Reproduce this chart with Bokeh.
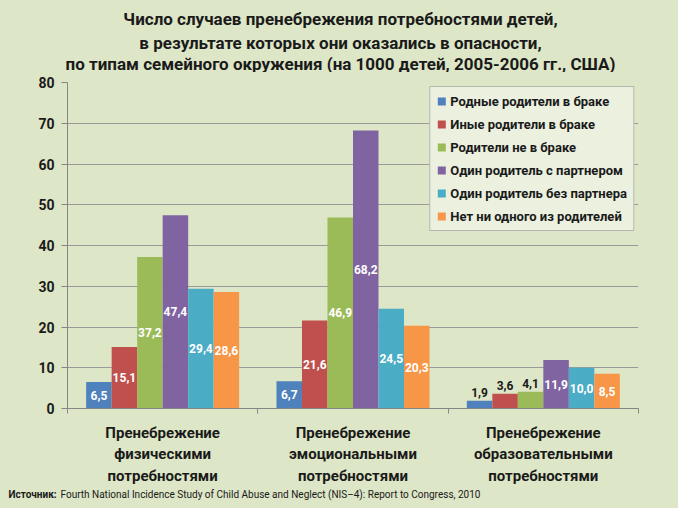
from bokeh.plotting import figure
from bokeh.layouts import column
from bokeh.models import ColumnDataSource, FixedTicker, Legend, LegendItem, Range1d
from bokeh.transform import dodge
from bokeh.embed import file_html
from bokeh.resources import INLINE
from bokeh.core.properties import value

# ---- data ----
categories = [
    "Пренебрежение\nфизическими\nпотребностями",
    "Пренебрежение\nэмоциональными\nпотребностями",
    "Пренебрежение\nобразовательными\nпотребностями",
]
series_names = [
    "Родные родители в браке",
    "Иные родители в браке",
    "Родители не в браке",
    "Один родитель с партнером",
    "Один родитель без партнера",
    "Нет ни одного из родителей",
]
native_married = [6.5, 6.7, 1.9]
other_married = [15.1, 21.6, 3.6]
unmarried = [37.2, 46.9, 4.1]
single_partner = [47.4, 68.2, 11.9]
single_no_partner = [29.4, 24.5, 10.0]
no_parent = [28.6, 20.3, 8.5]
series = [native_married, other_married, unmarried, single_partner, single_no_partner, no_parent]
y_ticks = [0, 10, 20, 30, 40, 50, 60, 70, 80]
title_lines = [
    "Число случаев пренебрежения потребностями детей,",
    "в результате которых они оказались в опасности,",
    "по типам семейного окружения (на 1000 детей, 2005-2006 гг., США)",
]
source_label = "Источник:"
source_text = "Fourth National Incidence Study of Child Abuse and Neglect (NIS–4): Report to Congress, 2010"

colors = ["#4F81BD", "#C0504D", "#9BBB59", "#8064A2", "#4BACC6", "#F79646"]
BG = "#dde6c6"
FONT = "Roboto"
TXT = "#1a1a1a"
WIDTH = 670


def text_panel(height):
    f = figure(width=WIDTH, height=height, x_range=Range1d(0, WIDTH), y_range=Range1d(height, 0),
               output_backend="svg", toolbar_location=None, title=None,
               x_axis_location=None, y_axis_location=None,
               min_border=0, min_border_left=0, min_border_right=0,
               min_border_top=0, min_border_bottom=0, frame_align=False,
               background_fill_color=BG, border_fill_color=BG)
    f.outline_line_color = None
    f.grid.visible = False
    return f


# ---- title panel ----
top = text_panel(72)
top.text(x=[WIDTH / 2 + 5] * 3, y=[18, 42, 63], text=title_lines, text_align="center",
         text_baseline="middle", text_font=value(FONT), text_font_size="17px",
         text_font_style="bold", text_color=TXT)

# ---- main chart ----
n_cat = len(categories)
xc = [i + 0.5 for i in range(n_cat)]
W = 0.134

p = figure(width=WIDTH, height=415, x_range=Range1d(0, n_cat), y_range=Range1d(0, 80),
           output_backend="svg", toolbar_location=None, title=None, frame_align=False,
           min_border_left=67, min_border_right=32, min_border_top=10, min_border_bottom=78,
           background_fill_color=BG, border_fill_color=BG)
p.outline_line_color = None

items = []
for i, (name, vals, col) in enumerate(zip(series_names, series, colors)):
    off = (i - (len(series) - 1) / 2) * W
    src = ColumnDataSource(dict(x=xc, top=vals))
    r = p.vbar(x=dodge("x", off), top="top", width=W, source=src,
               fill_color=col, line_color=None)
    items.append(LegendItem(label=name, renderers=[r]))
    inside = [(x, v) for x, v in zip(xc, vals) if v >= 5]
    above = [(x, v) for x, v in zip(xc, vals) if v < 5]
    if inside:
        s_in = ColumnDataSource(dict(x=[a for a, _ in inside], y=[v / 2 for _, v in inside],
                                     t=[f"{v:.1f}".replace(".", ",") for _, v in inside]))
        p.text(x=dodge("x", off), y="y", text="t", source=s_in, text_align="center",
               text_baseline="middle", text_color="white", text_font_size="12px",
               text_font_style="bold", text_font=value(FONT))
    if above:
        s_ab = ColumnDataSource(dict(x=[a for a, _ in above], y=[v for _, v in above],
                                     t=[f"{v:.1f}".replace(".", ",") for _, v in above]))
        p.text(x=dodge("x", off), y="y", text="t", source=s_ab, text_align="center",
               text_baseline="bottom", y_offset=-4, text_color=TXT, text_font_size="12px",
               text_font_style="bold", text_font=value(FONT))

legend = Legend(items=items, location="top_right", margin=4,
                background_fill_color="#ebf0df", background_fill_alpha=1.0,
                border_line_color="#808080", border_line_width=1,
                label_text_font=FONT, label_text_font_size="13px", label_text_font_style="bold",
                label_text_color=TXT, glyph_width=10, glyph_height=10,
                label_height=16, label_standoff=4, spacing=7, padding=6)
p.add_layout(legend)

p.xaxis.ticker = FixedTicker(ticks=xc, minor_ticks=list(range(n_cat + 1)))
p.xaxis.major_label_overrides = {x: c for x, c in zip(xc, categories)}
p.xaxis.major_tick_line_color = None
p.xaxis.minor_tick_line_color = "#868686"
p.xaxis.minor_tick_out = 5
p.xaxis.minor_tick_in = 0
p.xaxis.axis_line_color = "#868686"
p.xaxis.major_label_text_font = FONT
p.xaxis.major_label_text_font_size = "15px"
p.xaxis.major_label_text_font_style = "bold"
p.xaxis.major_label_text_color = TXT
p.xaxis.major_label_text_line_height = 1.2
p.xaxis.major_label_standoff = 9
p.xgrid.visible = False

p.yaxis.ticker = FixedTicker(ticks=y_ticks)
p.yaxis.minor_tick_line_color = None
p.yaxis.major_tick_line_color = "#868686"
p.yaxis.major_tick_out = 6
p.yaxis.major_tick_in = 0
p.yaxis.axis_line_color = "#868686"
p.yaxis.major_label_text_font = FONT
p.yaxis.major_label_text_font_size = "14px"
p.yaxis.major_label_text_font_style = "bold"
p.yaxis.major_label_text_color = TXT
p.yaxis.major_label_standoff = 7
p.ygrid.ticker = FixedTicker(ticks=y_ticks)
p.ygrid.grid_line_color = "#9a9a9a"

# ---- source panel ----
bottom = text_panel(21)
bottom.text(x=[8], y=[7], text=[source_label], text_align="left", text_baseline="middle",
            text_font=value(FONT), text_font_size="10px", text_font_style="bold", text_color=TXT)
bottom.text(x=[60], y=[7], text=[source_text], text_align="left", text_baseline="middle",
            text_font=value(FONT), text_font_size="10px", text_color=TXT)

layout = column(top, p, bottom, spacing=0)

html = file_html(layout, INLINE)
html = html.replace("</head>", "<style>html,body{background:%s;}</style></head>" % BG)
open("out.html", "w").write(html)
